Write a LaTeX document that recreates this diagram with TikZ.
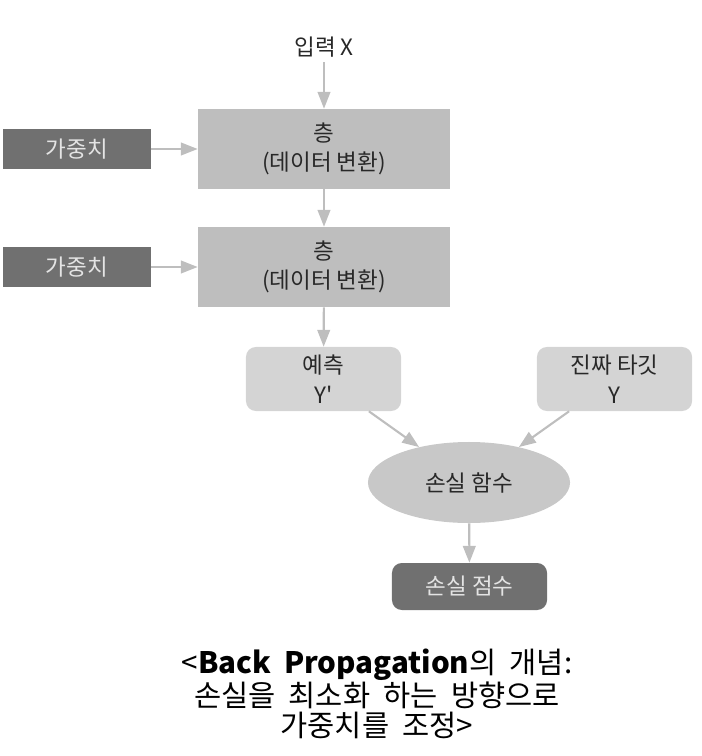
\documentclass[tikz,border=0pt]{standalone}
\usepackage{fontspec}
\usepackage{xcolor}
\usetikzlibrary{arrows.meta,shapes.geometric}
\setmainfont{Noto Sans CJK KR}[Ligatures=TeXOff]

\definecolor{layergray}{RGB}{190,190,190}
\definecolor{lightgray}{RGB}{212,212,212}
\definecolor{lossgray}{RGB}{200,200,200}
\definecolor{darkgray}{RGB}{112,112,112}
\definecolor{paletext}{RGB}{228,228,228}
\definecolor{textdark}{RGB}{40,40,40}
\definecolor{arrowgray}{RGB}{190,190,190}
\newcommand{\captionfont}{\fontsize{21}{21.5}\selectfont\spaceskip=0.45em\relax}

\begin{document}
\begin{tikzpicture}[x=0.025cm, y=-0.025cm,
    every node/.style={font=\fontsize{16}{21}\selectfont, text=textdark, align=center},
    layerbox/.style={fill=layergray, minimum width=6.3cm, minimum height=2cm},
    weightbox/.style={fill=darkgray, text=paletext, minimum width=3.7cm, minimum height=1cm},
    valuebox/.style={fill=lightgray, rounded corners=7pt, minimum width=3.875cm, minimum height=1.6cm},
    link/.style={draw=arrowgray, line width=1.5pt, -{Triangle[width=9pt,length=12pt]}}]
      % \draw[help lines] (0,0) grid[step=50] (702,756);
      \useasboundingbox (0,0) rectangle (702,756);

      \node (input) at (324,47) {입력 X};
      \node[layerbox] (layer1) at (324,149) {층\\(데이터 변환)};
      \node[layerbox] (layer2) at (324,267) {층\\(데이터 변환)};
      \node[weightbox] (weight1) at (77,149) {가중치};
      \node[weightbox] (weight2) at (77,267) {가중치};
      \node[valuebox] (pred) at (323.5,379) {예측\\Y'};
      \node[valuebox] (target) at (614.5,379) {진짜 타깃\\Y};
      \node[ellipse, fill=lossgray, minimum width=5.05cm, minimum height=2.025cm] (loss) at (469,482.5) {손실 함수};
      \node[fill=darkgray, text=paletext, rounded corners=7pt, minimum width=3.875cm, minimum height=1.175cm] (score) at (469.5,586.5) {손실 점수};

      \draw[link] (input) -- (layer1);
      \draw[link] (weight1) -- (layer1);
      \draw[link] (layer1) -- (layer2);
      \draw[link] (weight2) -- (layer2);
      \draw[link] (layer2) -- (pred);
      \draw[link] (pred) -- (loss);
      \draw[link] (target) -- (loss);
      \draw[link] (loss) -- (score);

      \node[font=\captionfont, text=black] (caption) at (377,694)
        {<\textbf{Back Propagation}의 개념:\\손실을 최소화 하는 방향으로\\가중치를 조정>};
    \end{tikzpicture}
\end{document}
